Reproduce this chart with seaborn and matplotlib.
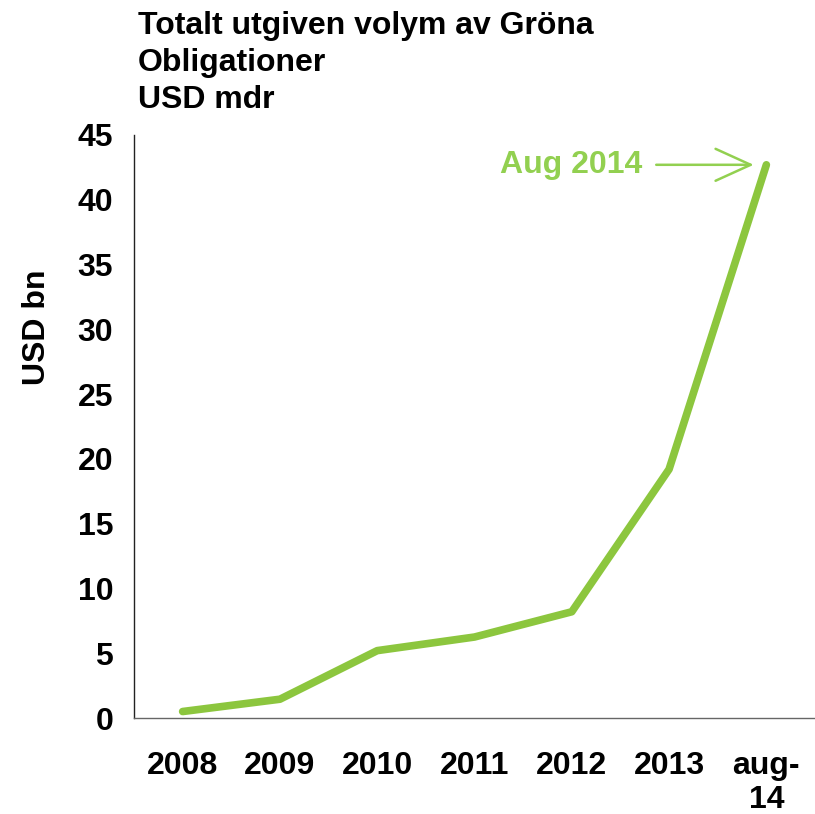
import matplotlib
matplotlib.use("Agg")
import matplotlib.pyplot as plt
import seaborn as sns
import pandas as pd
import numpy as np

categories = ["2008", "2009", "2010", "2011", "2012", "2013", "aug-\n14"]
values = [0.5, 1.45, 5.2, 6.25, 8.2, 19.2, 42.7]
title_lines = ["Totalt utgiven volym av Gröna", "Obligationer", "USD mdr"]
y_ticks = [0, 5, 10, 15, 20, 25, 30, 35, 40, 45]
annot_text = "Aug 2014"

sns.set_theme(style="white")
plt.rcParams['font.family'] = ['Liberation Sans', 'DejaVu Sans']
plt.rcParams['text.color'] = 'black'
plt.rcParams['xtick.color'] = 'black'
plt.rcParams['ytick.color'] = 'black'
plt.rcParams['axes.labelcolor'] = 'black'

line_color = "#8CC63E"
annot_color = "#92D050"

df = pd.DataFrame({"cat": categories, "val": values})

W, H = 815, 814
fig = plt.figure(figsize=(W / 100, H / 100), dpi=100)
ax = fig.add_axes([134 / W, (H - 718) / H, (W - 134) / W, (718 - 135) / H])

sns.lineplot(data=df, x="cat", y="val", ax=ax, color=line_color, linewidth=5.5,
             sort=False, solid_capstyle="round")

ax.set_xlim(-0.5, 6.5)
ax.set_ylim(0, 45)
ax.set_yticks(y_ticks)
ax.set_yticklabels([str(t) for t in y_ticks], fontsize=23, fontweight="bold")
ax.set_xticks(range(len(categories)))
ax.set_xticklabels(categories, fontsize=23, fontweight="bold", linespacing=1.15)
ax.set_xticks(np.arange(-0.5, len(categories) - 0.5, 1.0), minor=True)
ax.tick_params(axis="x", which="major", length=0, pad=24)
ax.tick_params(axis="x", which="minor", length=10, width=1, color="#555555", direction="out")
ax.tick_params(axis="y", which="major", length=9, width=1, color="#333333", direction="out", pad=6)

for s in ["top", "right"]:
    ax.spines[s].set_visible(False)
ax.spines["left"].set_color("#222222")
ax.spines["bottom"].set_color("#666666")
ax.spines["left"].set_linewidth(1)
ax.spines["bottom"].set_linewidth(1)

ax.set_xlabel("")
ax.set_ylabel("USD bn", fontsize=23, fontweight="bold")
ax.yaxis.set_label_coords(-0.12, 0.67)

fig.text(138 / W, 1 - 11 / H, "\n".join(title_lines), fontsize=23, fontweight="bold",
         va="top", ha="left", linespacing=1.3)

ax.annotate(annot_text, xy=(5.87, 42.7), xytext=(4.72, 42.7),
            fontsize=23, fontweight="bold", color=annot_color, ha="right", va="center",
            arrowprops=dict(arrowstyle="->,head_length=1.1,head_width=0.5", color=annot_color,
                            lw=1.8, shrinkA=8, shrinkB=0))

fig.savefig("out.png", dpi=100)
